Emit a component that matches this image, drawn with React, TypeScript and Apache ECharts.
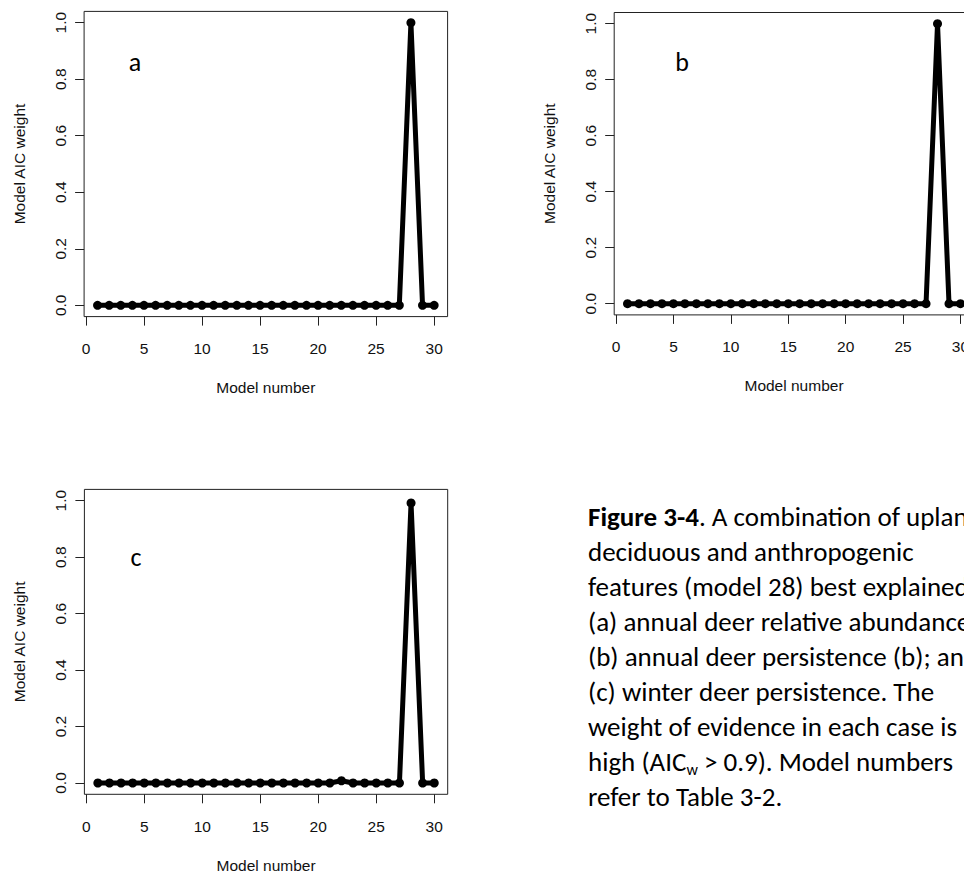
import React, { useEffect, useRef } from "react";
import * as echarts from "echarts";

// ---- data ----
const models = [1, 2, 3, 4, 5, 6, 7, 8, 9, 10, 11, 12, 13, 14, 15, 16, 17, 18, 19, 20, 21, 22, 23, 24, 25, 26, 27, 28, 29, 30];
const weightA = [0, 0, 0, 0, 0, 0, 0, 0, 0, 0, 0, 0, 0, 0, 0, 0, 0, 0, 0, 0, 0, 0, 0, 0, 0, 0, 0, 1.0, 0, 0];
const weightB = [0, 0, 0, 0, 0, 0, 0, 0, 0, 0, 0, 0, 0, 0, 0, 0, 0, 0, 0, 0, 0, 0, 0, 0, 0, 0, 0, 1.0, 0, 0];
const weightC = [0, 0, 0, 0, 0, 0, 0, 0, 0, 0, 0, 0, 0, 0, 0, 0, 0, 0, 0, 0, 0, 0.008, 0, 0, 0, 0, 0, 0.992, 0, 0];
const xTicks = [0, 5, 10, 15, 20, 25, 30];
const yTicks = [0, 0.2, 0.4, 0.6, 0.8, 1.0];
const panelLetters = ["a", "b", "c"];
const xTitle = "Model number";
const yTitle = "Model AIC weight";
const captionLines = [
  "{b|Figure 3-4}. A combination of upland",
  "deciduous and anthropogenic",
  "features (model 28) best explained",
  "(a) annual deer relative abundance;",
  "(b) annual deer persistence (b); and",
  "(c) winter deer persistence. The",
  "weight of evidence in each case is",
  "high (AIC{sub|w} > 0.9). Model numbers",
  "refer to Table 3-2.",
];

const AXIS_FONT = "'Liberation Sans', Arial, sans-serif";
const TEXT_FONT = "Carlito, Lato, sans-serif";

export default function App() {
  const ref = useRef<HTMLDivElement>(null);
  useEffect(() => {
    if (!ref.current) return;
    const chart = echarts.init(ref.current, null, { renderer: "svg" });

    const panels = [
      { left: 84.1, top: 11.4, width: 363.5, height: 305.2, w: weightA },
      { left: 614.2, top: 12.5, width: 359.6, height: 302.4, w: weightB },
      { left: 84.4, top: 489.4, width: 363.3, height: 304.9, w: weightC },
    ];

    const grid = panels.map((p) => ({
      left: p.left,
      top: p.top,
      width: p.width,
      height: p.height,
      show: true,
      borderColor: "#222",
      borderWidth: 1,
      backgroundColor: "transparent",
      containLabel: false,
      outerBoundsMode: "none",
    }));

    const xAxis = panels.map((_, i) => ({
      type: "value",
      gridIndex: i,
      min: -0.16,
      max: 31.16,
      splitLine: { show: false },
      axisLine: { show: false, onZero: false },
      axisTick: { show: true, inside: false, length: 9, customValues: xTicks, lineStyle: { color: "#222", width: 1 } },
      axisLabel: {
        show: true,
        customValues: xTicks,
        margin: 24,
        fontFamily: AXIS_FONT,
        fontSize: 15.5,
        color: "#111",
        formatter: (v: number) => String(v),
      },
      name: xTitle,
      nameLocation: "middle",
      nameGap: 63,
      nameTextStyle: { fontFamily: AXIS_FONT, fontSize: 15.5, color: "#111" },
    }));

    const yAxis = panels.map((_, i) => ({
      type: "value",
      gridIndex: i,
      min: -0.04,
      max: 1.04,
      splitLine: { show: false },
      axisLine: { show: false, onZero: false },
      axisTick: { show: true, inside: false, length: 9, customValues: yTicks, lineStyle: { color: "#222", width: 1 } },
      axisLabel: {
        show: true,
        customValues: yTicks,
        rotate: 90,
        margin: 16,
        fontFamily: AXIS_FONT,
        fontSize: 15.5,
        color: "#111",
        formatter: (v: number) => v.toFixed(1),
      },
      name: yTitle,
      nameLocation: "middle",
      nameGap: 57,
      nameRotate: 90,
      nameTextStyle: { fontFamily: AXIS_FONT, fontSize: 15.5, color: "#111" },
    }));

    const series = panels.map((p, i) => ({
      type: "line",
      xAxisIndex: i,
      yAxisIndex: i,
      data: models.map((m, k) => [m, p.w[k]]),
      symbol: "circle",
      symbolSize: 9,
      showSymbol: true,
      lineStyle: { color: "#000", width: 5 },
      itemStyle: { color: "#000" },
      clip: false,
    }));

    const letterPos = [
      { x: 135, y: 62 },
      { x: 682, y: 62 },
      { x: 136, y: 557 },
    ];
    const graphics: any[] = panelLetters.map((t, i) => ({
      type: "text",
      x: letterPos[i].x,
      y: letterPos[i].y,
      style: {
        text: t,
        font: `26px ${TEXT_FONT}`,
        fill: "#000",
        align: "center",
        verticalAlign: "middle",
      },
    }));

    const capTop = 516;
    const capStep = 35.1;
    captionLines.forEach((line, i) => {
      graphics.push({
        type: "text",
        x: 588,
        y: capTop + i * capStep,
        style: {
          text: line,
          fontFamily: TEXT_FONT,
          fontSize: 27,
          fill: "#000",
          align: "left",
          verticalAlign: "middle",
          lineHeight: 31,
          rich: {
            b: { fontFamily: TEXT_FONT, fontSize: 27, fontWeight: "bold", fill: "#000", lineHeight: 31 },
            sub: { fontFamily: TEXT_FONT, fontSize: 16, fill: "#000", lineHeight: 19, verticalAlign: "bottom" },
          },
        },
      });
    });

    chart.setOption({
      animation: false,
      backgroundColor: "#fff",
      grid,
      xAxis,
      yAxis,
      series,
      graphic: graphics,
    } as any);

    return () => chart.dispose();
  }, []);

  return (
    <div
      ref={ref}
      style={{ position: "absolute", left: 0, top: 0, width: 964, height: 873, background: "#fff" }}
    />
  );
}
